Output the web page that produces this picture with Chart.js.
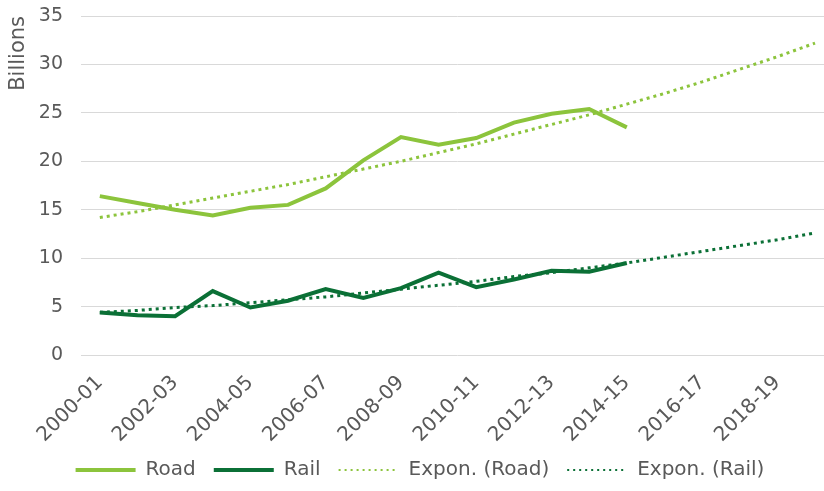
<!DOCTYPE html>
<html>
<head>
<meta charset="utf-8">
<script src="https://cdn.jsdelivr.net/npm/chart.js@4"></script>
<style>
  html, body { margin: 0; padding: 0; background: #fff; overflow: hidden; }
  #wrap { width: 840px; height: 491px; }
</style>
</head>
<body>
<div id="wrap"><canvas id="chart"></canvas></div>
<script>
const years = [
  "2000-01", "2001-02", "2002-03", "2003-04", "2004-05", "2005-06", "2006-07",
  "2007-08", "2008-09", "2009-10", "2010-11", "2011-12", "2012-13", "2013-14",
  "2014-15", "2015-16", "2016-17", "2017-18", "2018-19", "2019-20",
];
const road = [16.4, 15.7, 15.0, 14.4, 15.2, 15.5, 17.2, 20.1, 22.5, 21.7, 22.4, 24.0, 24.9, 25.4, 23.5];
const rail = [4.4, 4.1, 4.0, 6.6, 4.9, 5.6, 6.8, 5.9, 6.9, 8.5, 7.0, 7.8, 8.7, 8.6, 9.5];
// trend lines
const roadTrend = [14.2, 14.8, 15.5, 16.2, 16.9, 17.6, 18.4, 19.2, 20.0, 20.9, 21.8, 22.8, 23.8, 24.8, 25.9, 27.0, 28.2, 29.5, 30.8, 32.2];
const railTrend = [4.4, 4.6, 4.9, 5.1, 5.4, 5.7, 6.0, 6.4, 6.8, 7.2, 7.6, 8.1, 8.5, 9.0, 9.5, 10.1, 10.7, 11.3, 11.9, 12.6];
const yTicks = [0, 5, 10, 15, 20, 25, 30, 35];

const lightGreen = "#8cc43c";
const darkGreen = "#0b7036";
const textColor = "#595959";
const font = "'DejaVu Sans', Verdana, sans-serif";

const ctx = document.getElementById("chart");
new Chart(ctx, {
  type: "line",
  data: {
    labels: years,
    datasets: [
      {
        label: "Road",
        data: road,
        borderColor: lightGreen,
        backgroundColor: lightGreen,
        borderWidth: 4,
        pointRadius: 0,
        pointStyle: "line",
        order: 1,
      },
      {
        label: "Rail",
        data: rail,
        borderColor: darkGreen,
        backgroundColor: darkGreen,
        borderWidth: 4,
        pointRadius: 0,
        pointStyle: "line",
        order: 1,
      },
      {
        label: "Expon. (Road)",
        data: roadTrend,
        borderColor: lightGreen,
        backgroundColor: lightGreen,
        borderWidth: 3,
        borderDash: [3, 4],
        pointRadius: 0,
        pointStyle: "line",
        order: 0,
      },
      {
        label: "Expon. (Rail)",
        data: railTrend,
        borderColor: darkGreen,
        backgroundColor: darkGreen,
        borderWidth: 3,
        borderDash: [3, 4],
        pointRadius: 0,
        pointStyle: "line",
        order: 0,
      },
    ],
  },
  options: {
    responsive: true,
    maintainAspectRatio: false,
    animation: false,
    layout: { padding: { top: 16, left: 0, right: 0, bottom: 1 } },
    plugins: {
      tooltip: { enabled: false },
      legend: {
        position: "bottom",
        labels: {
          usePointStyle: true,
          pointStyleWidth: 60,
          padding: 18,
          color: textColor,
          font: { family: font, size: 20 },
          sort: (a, b) => a.datasetIndex - b.datasetIndex,
          generateLabels: (chart) => {
            const items = Chart.defaults.plugins.legend.labels.generateLabels(chart);
            items.forEach((it) => {
              if (it.datasetIndex >= 2) {
                it.lineWidth = 2;
                it.lineDash = [2, 4];
              } else {
                it.lineWidth = 4;
              }
            });
            return items;
          },
        },
      },
    },
    scales: {
      x: {
        offset: true,
        grid: { display: false },
        border: { display: false },
        ticks: {
          autoSkip: false,
          minRotation: 45,
          maxRotation: 45,
          padding: 8,
          color: textColor,
          font: { family: font, size: 20 },
          callback: (val, i) => (i % 2 === 0 ? years[i] : ""),
        },
        afterFit: (scale) => { scale.height = 87; },
      },
      y: {
        min: 0,
        max: 35,
        afterBuildTicks: (scale) => { scale.ticks = yTicks.map((v) => ({ value: v })); },
        grid: { color: "#d9d9d9", drawTicks: false },
        border: { display: false },
        ticks: {
          padding: 18,
          color: textColor,
          font: { family: font, size: 19 },
        },
        title: {
          display: true,
          text: "Billions",
          align: "end",
          color: textColor,
          font: { family: font, size: 21 },
          padding: { top: 6, bottom: 0 },
        },
        afterFit: (scale) => {
          scale.width = 81;
          scale.paddingTop = 0;
          scale.paddingBottom = 0;
        },
      },
    },
  },
});
</script>
</body>
</html>
